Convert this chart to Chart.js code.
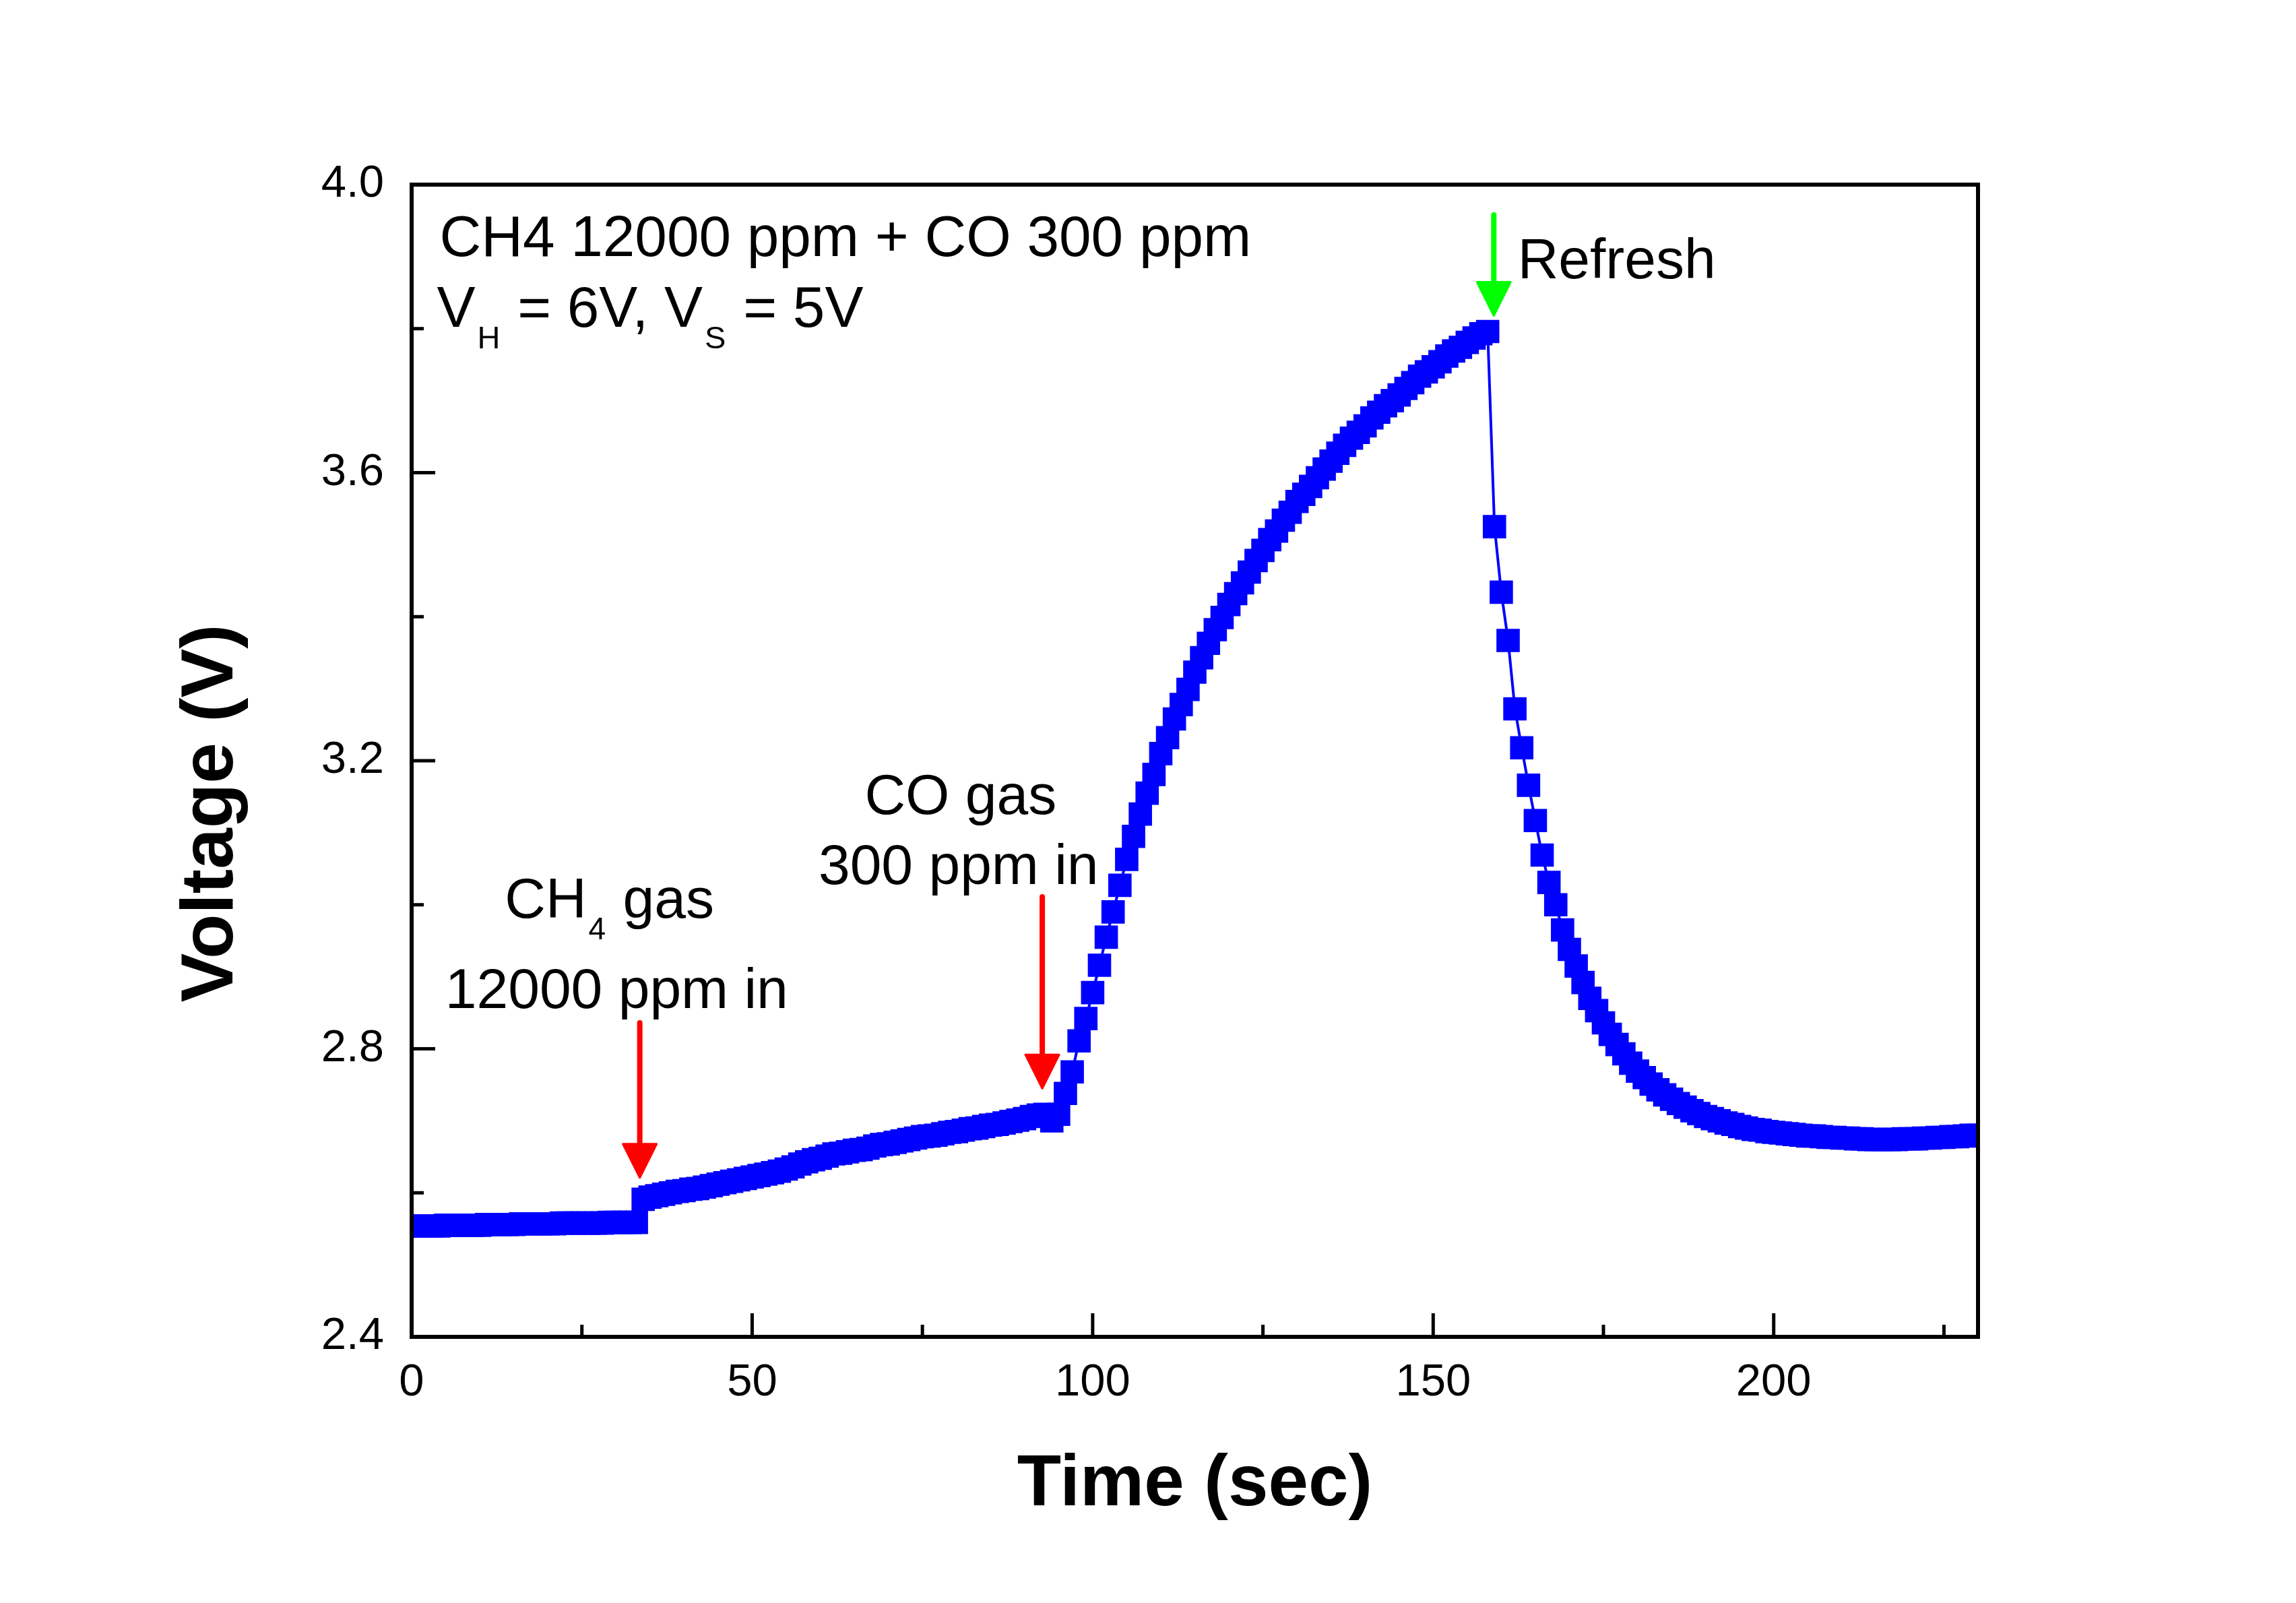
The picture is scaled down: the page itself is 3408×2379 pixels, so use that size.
<!DOCTYPE html>
<html>
<head>
<meta charset="utf-8">
<script src="https://cdn.jsdelivr.net/npm/chart.js@4.4.1/dist/chart.umd.min.js"></script>
<style>
html,body{margin:0;padding:0;background:#fff;overflow:hidden}
canvas{display:block}
</style>
</head>
<body>
<canvas id="c" width="3408" height="2379"></canvas>
<script>
// ---- data ----
const timeSec = [
0,1,2,3,4,5,6,7,8,9,10,11,12,13,14,15,16,17,18,19,
20,21,22,23,24,25,26,27,28,29,30,31,32,33,34,35,36,37,38,39,
40,41,42,43,44,45,46,47,48,49,50,51,52,53,54,55,56,57,58,59,
60,61,62,63,64,65,66,67,68,69,70,71,72,73,74,75,76,77,78,79,
80,81,82,83,84,85,86,87,88,89,90,91,92,93,94,95,96,97,98,99,
100,101,102,103,104,105,106,107,108,109,110,111,112,113,114,115,116,117,118,119,
120,121,122,123,124,125,126,127,128,129,130,131,132,133,134,135,136,137,138,139,
140,141,142,143,144,145,146,147,148,149,150,151,152,153,154,155,156,157,158,159,
160,161,162,163,164,165,166,167,168,169,170,171,172,173,174,175,176,177,178,179,
180,181,182,183,184,185,186,187,188,189,190,191,192,193,194,195,196,197,198,199,
200,201,202,203,204,205,206,207,208,209,210,211,212,213,214,215,216,217,218,219,
220,221,222,223,224,225,226,227,228,229,230
];
const voltage = [
2.554,2.554,2.554,2.554,2.554,2.555,2.555,2.555,2.555,2.555,
2.555,2.556,2.556,2.556,2.556,2.556,2.557,2.557,2.557,2.557,
2.557,2.557,2.558,2.558,2.558,2.558,2.558,2.558,2.558,2.559,
2.559,2.559,2.559,2.559,2.591,2.594,2.596,2.598,2.600,2.602,
2.603,2.605,2.606,2.608,2.610,2.612,2.614,2.616,2.618,2.620,
2.622,2.624,2.626,2.628,2.630,2.633,2.636,2.640,2.643,2.646,
2.648,2.651,2.654,2.655,2.657,2.659,2.660,2.662,2.665,2.667,
2.668,2.670,2.672,2.674,2.676,2.678,2.679,2.680,2.682,2.684,
2.685,2.687,2.689,2.690,2.692,2.694,2.695,2.697,2.699,2.701,
2.703,2.706,2.708,2.709,2.700,2.709,2.738,2.768,2.811,2.842,
2.878,2.916,2.955,2.990,3.027,3.063,3.095,3.126,3.155,3.181,
3.210,3.232,3.258,3.278,3.299,3.323,3.343,3.363,3.382,3.399,
3.417,3.432,3.447,3.462,3.478,3.492,3.507,3.519,3.534,3.545,
3.560,3.570,3.581,3.593,3.605,3.616,3.627,3.638,3.648,3.656,
3.665,3.676,3.684,3.693,3.700,3.708,3.717,3.725,3.734,3.740,
3.747,3.754,3.762,3.769,3.774,3.781,3.787,3.793,3.796,3.525,
3.434,3.367,3.272,3.218,3.166,3.117,3.069,3.031,3.000,2.965,
2.938,2.915,2.892,2.870,2.853,2.836,2.820,2.806,2.793,2.780,
2.769,2.760,2.751,2.743,2.736,2.730,2.724,2.719,2.714,2.710,
2.706,2.703,2.700,2.697,2.695,2.692,2.690,2.688,2.687,2.685,
2.684,2.683,2.682,2.681,2.680,2.679,2.679,2.678,2.677,2.677,
2.676,2.676,2.675,2.675,2.674,2.674,2.674,2.674,2.674,2.675,
2.675,2.675,2.676,2.676,2.677,2.677,2.678,2.678,2.679,2.680,
2.680
];
const xMajorTicks = [0, 50, 100, 150, 200];
const xMinorTicks = [25, 75, 125, 175, 225];
const yMajorTicks = [2.4, 2.8, 3.2, 3.6, 4.0];
const yMinorTicks = [2.6, 3.0, 3.4, 3.8];
const xTitle = 'Time (sec)';
const yTitle = 'Voltage (V)';

// annotation texts (position in data units; [text, isSubscript])
const notes = [
  {parts: [['CH4 12000 ppm + CO 300 ppm', 0]], x: 4.1, y: 3.9005, align: 'left', size: 85.5},
  {parts: [['V', 0], ['H', 1], [' = 6V, V', 0], ['S', 1], [' = 5V', 0]], x: 3.7, y: 3.803, align: 'left', size: 85.5},
  {parts: [['CH', 0], ['4', 1], [' gas', 0]], x: 28.8, y: 2.982, align: 'center', size: 84},
  {parts: [['12000 ppm in', 0]], x: 30.1, y: 2.857, align: 'center', size: 84},
  {parts: [['CO gas', 0]], x: 80.6, y: 3.126, align: 'center', size: 84},
  {parts: [['300 ppm in', 0]], x: 80.3, y: 3.029, align: 'center', size: 84},
  {parts: [['Refresh', 0]], x: 162.4, y: 3.870, align: 'left', size: 84}
];
const arrows = [
  {x: 33.5, from: 2.836, to: 2.621, color: '#FF0000'},
  {x: 92.6, from: 3.011, to: 2.745, color: '#FF0000'},
  {x: 158.9, from: 3.958, to: 3.818, color: '#00FF00'}
];

const FONT = '"Liberation Sans", Arial, Helvetica, sans-serif';
Chart.defaults.font.family = FONT;
Chart.defaults.color = '#000';

const points = timeSec.map((t, i) => ({x: t, y: voltage[i]}));

const framePlugin = {
  id: 'framePlugin',
  beforeDraw(chart) {
    const ctx = chart.ctx;
    ctx.save();
    ctx.fillStyle = '#ffffff';
    ctx.fillRect(0, 0, chart.width, chart.height);
    ctx.restore();
  },
  afterDraw(chart) {
    const ctx = chart.ctx;
    const a = chart.chartArea;
    const xs = chart.scales.x, ys = chart.scales.y;
    ctx.save();
    // inward ticks
    ctx.strokeStyle = '#000';
    ctx.lineWidth = 5;
    ctx.lineCap = 'butt';
    ctx.beginPath();
    xMajorTicks.forEach(v => { const p = xs.getPixelForValue(v); ctx.moveTo(p, a.bottom); ctx.lineTo(p, a.bottom - 35); });
    xMinorTicks.forEach(v => { const p = xs.getPixelForValue(v); ctx.moveTo(p, a.bottom); ctx.lineTo(p, a.bottom - 18); });
    yMajorTicks.forEach(v => { const p = ys.getPixelForValue(v); ctx.moveTo(a.left, p); ctx.lineTo(a.left + 35, p); });
    yMinorTicks.forEach(v => { const p = ys.getPixelForValue(v); ctx.moveTo(a.left, p); ctx.lineTo(a.left + 18, p); });
    ctx.stroke();
    // frame
    ctx.lineWidth = 6;
    ctx.lineJoin = 'miter';
    ctx.strokeRect(a.left, a.top, a.right - a.left, a.bottom - a.top);

    // arrows
    arrows.forEach(ar => {
      const px = xs.getPixelForValue(ar.x);
      const y0 = ys.getPixelForValue(ar.from);
      const y1 = ys.getPixelForValue(ar.to);
      const headLen = 50, headHalf = 25;
      ctx.strokeStyle = ar.color;
      ctx.fillStyle = ar.color;
      ctx.lineWidth = 8;
      ctx.lineCap = 'round';
      ctx.beginPath();
      ctx.moveTo(px, y0);
      ctx.lineTo(px, y1 - headLen + 4);
      ctx.stroke();
      ctx.lineJoin = 'round';
      ctx.lineWidth = 3;
      ctx.beginPath();
      ctx.moveTo(px - headHalf, y1 - headLen);
      ctx.lineTo(px + headHalf, y1 - headLen);
      ctx.lineTo(px, y1);
      ctx.closePath();
      ctx.fill();
      ctx.stroke();
    });

    // annotation texts
    ctx.fillStyle = '#000';
    ctx.textBaseline = 'alphabetic';
    ctx.textAlign = 'left';
    notes.forEach(n => {
      const mainFont = n.size + 'px ' + FONT;
      const subFont = Math.round(n.size * 0.55) + 'px ' + FONT;
      const px = xs.getPixelForValue(n.x);
      const py = ys.getPixelForValue(n.y);
      const widths = n.parts.map(([t, sub]) => { ctx.font = sub ? subFont : mainFont; return ctx.measureText(t).width; });
      const total = widths.reduce((s, w) => s + w, 0);
      let cx = n.align === 'center' ? px - total / 2 : px;
      n.parts.forEach(([t, sub], i) => {
        ctx.font = sub ? subFont : mainFont;
        ctx.fillText(t, cx + (sub ? 3 : 0), sub ? py + 32 : py);
        cx += widths[i] + (sub ? 5 : 0);
      });
    });

    // axis titles
    ctx.font = 'bold 107px ' + FONT;
    ctx.textAlign = 'center';
    ctx.textBaseline = 'alphabetic';
    ctx.fillText(xTitle, (a.left + a.right) / 2, a.bottom + 250);
    ctx.save();
    ctx.translate(a.left - 266, ys.getPixelForValue(3.127));
    ctx.rotate(-Math.PI / 2);
    ctx.font = 'bold 109px ' + FONT;
    ctx.fillText(yTitle, 0, 0);
    ctx.restore();

    ctx.restore();
  }
};

new Chart(document.getElementById('c'), {
  type: 'line',
  data: {
    datasets: [{
      data: points,
      borderColor: '#0000FF',
      backgroundColor: '#0000FF',
      borderWidth: 4,
      tension: 0,
      fill: false,
      pointStyle: 'rect',
      pointRadius: 24.5,
      pointHoverRadius: 24.5,
      pointBackgroundColor: '#0000FF',
      pointBorderColor: '#0000FF',
      pointBorderWidth: 0,
      clip: 0
    }]
  },
  options: {
    responsive: false,
    maintainAspectRatio: false,
    animation: false,
    devicePixelRatio: 1,
    events: [],
    layout: { padding: { left: 411, right: 472, top: 274, bottom: 245 } },
    plugins: {
      legend: { display: false },
      tooltip: { enabled: false },
      title: { display: false }
    },
    scales: {
      x: {
        type: 'linear',
        position: 'bottom',
        min: 0,
        max: 230,
        grid: { display: false, drawTicks: false },
        border: { display: false },
        afterBuildTicks: s => { s.ticks = xMajorTicks.map(v => ({value: v})); },
        afterFit: s => { s.height = 150; },
        ticks: {
          font: { size: 67 },
          color: '#000',
          padding: 28,
          autoSkip: false,
          maxRotation: 0,
          minRotation: 0
        }
      },
      y: {
        type: 'linear',
        position: 'left',
        min: 2.4,
        max: 4.0,
        grid: { display: false, drawTicks: false },
        border: { display: false },
        afterBuildTicks: s => { s.ticks = yMajorTicks.map(v => ({value: v})); },
        afterFit: s => { s.width = 200; },
        ticks: {
          font: { size: 67 },
          color: '#000',
          padding: 41,
          autoSkip: false,
          callback: v => Number(v).toFixed(1)
        }
      }
    }
  },
  plugins: [framePlugin]
});
</script>
</body>
</html>
